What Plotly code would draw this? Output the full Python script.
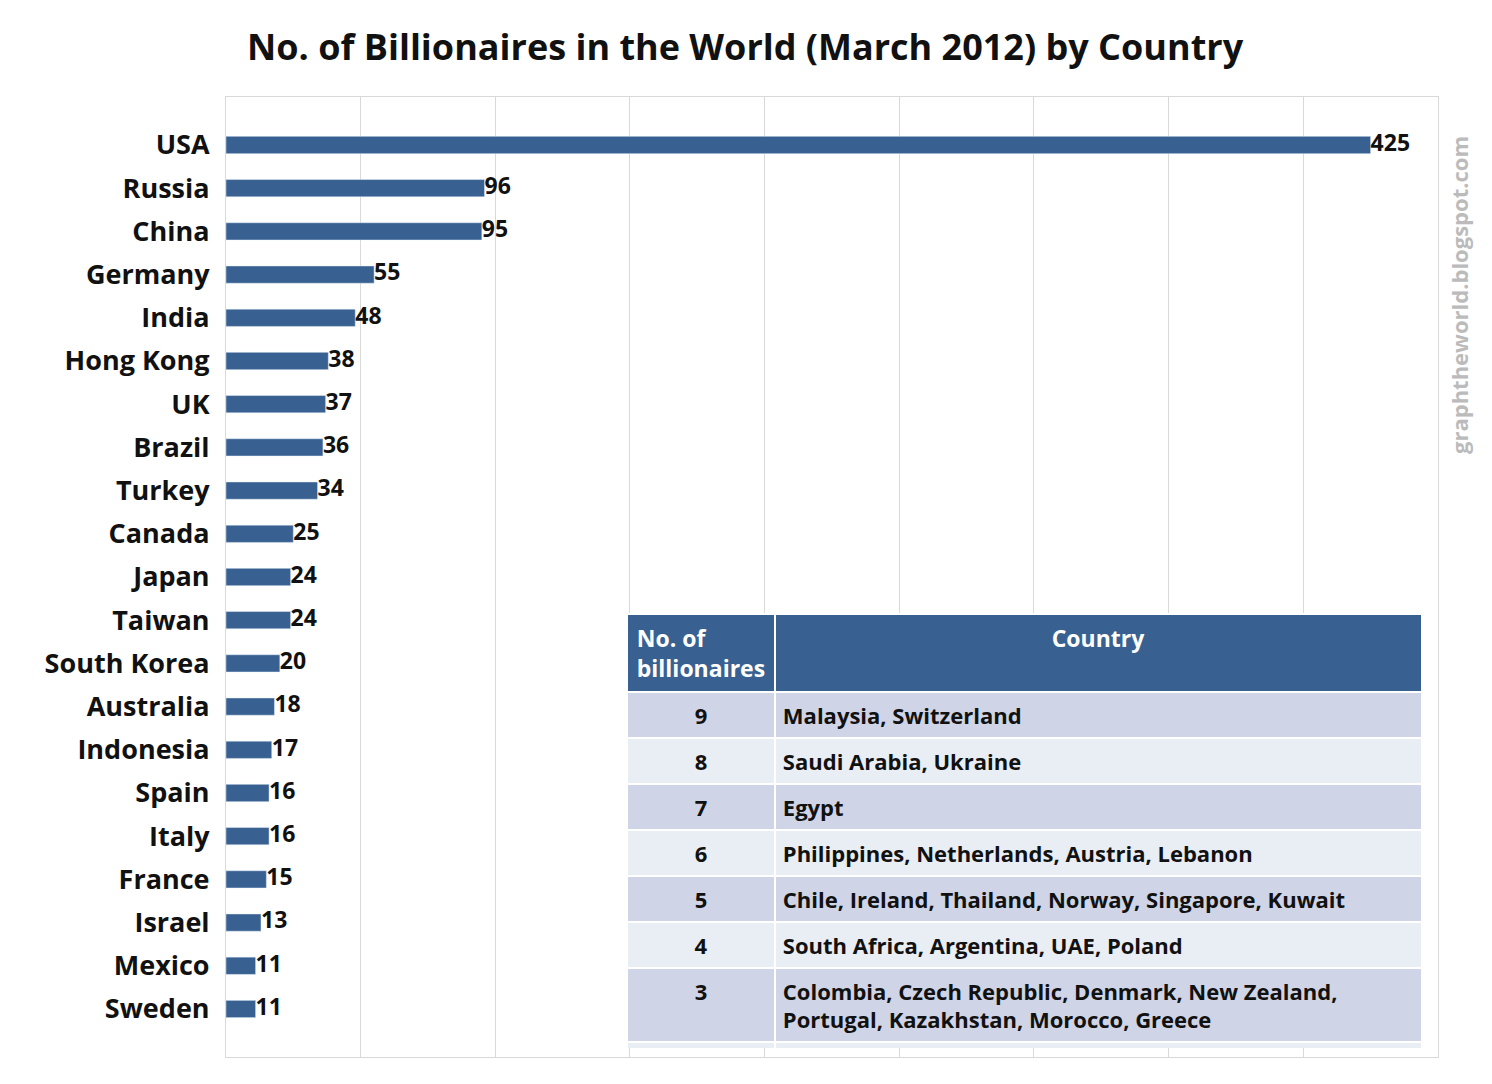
import plotly.graph_objects as go

countries = ["USA","Russia","China","Germany","India","Hong Kong","UK","Brazil","Turkey","Canada",
             "Japan","Taiwan","South Korea","Australia","Indonesia","Spain","Italy","France","Israel","Mexico","Sweden"]
values = [425,96,95,55,48,38,37,36,34,25,24,24,20,18,17,16,16,15,13,11,11]

tbl_counts = ["9","8","7","6","5","4","3","2","1"]
tbl_countries = ["Malaysia, Switzerland","Saudi Arabia, Ukraine","Egypt",
                 "Philippines, Netherlands, Austria, Lebanon",
                 "Chile, Ireland, Thailand, Norway, Singapore, Kuwait",
                 "South Africa, Argentina, UAE, Poland",
                 "Colombia, Czech Republic, Denmark, New Zealand,<br>Portugal, Kazakhstan, Morocco, Greece",
                 "Cyprus, Nigeria, Venezuela, Belgium, Monaco, Peru",
                 "Georgia, Finland, St. Kitts and Nevis, Romania, Belize"]

FONT = "Open Sans"
blue = "#386192"
fig = go.Figure()
fig.add_trace(go.Bar(x=values, y=countries, orientation="h", marker_color=blue, width=0.4,
                     hoverinfo="skip"))
fig.add_trace(go.Scatter(x=values, y=countries, mode="text",
                         text=[f"<b>{v}</b>" for v in values], textposition="middle right",
                         textfont=dict(size=23, color="#111", family=FONT), cliponaxis=False))
row_colors = ["#CFD5E6" if i % 2 == 0 else "#E9EDF4" for i in range(len(tbl_counts))]
fig.add_trace(go.Table(
    domain=dict(x=[0.4149, 0.9484], y=[0.0406, 0.441]),
    columnwidth=[148, 648],
    header=dict(values=["<b>No. of<br>billionaires</b>", "<b>Country</b>"],
                fill_color=blue, line_color="white", line_width=2,
                font=dict(color="white", size=23, family=FONT), align="center", height=68),
    cells=dict(values=[[f"<b>{c}</b>" for c in tbl_counts], [f"<b>{c}</b>" for c in tbl_countries]],
               fill_color=[row_colors, row_colors],
               line_color="white", line_width=2, height=36.5,
               font=dict(color="#111", size=22, family=FONT), align=["center", "left"])))
fig.update_layout(
    width=1492, height=1084, margin=dict(l=0, r=0, t=0, b=0),
    paper_bgcolor="white", plot_bgcolor="white", showlegend=False,
    title=dict(text="<b>No. of Billionaires in the World (March 2012) by Country</b>",
               x=0.494, xanchor="center", y=0.964, yanchor="middle",
               font=dict(size=36, color="#111", family=FONT)),
    xaxis=dict(domain=[0.1461, 0.9584], range=[0, 450], dtick=50, showticklabels=False,
               showgrid=True, gridcolor="#D9D9D9", zeroline=False,
               showline=True, linecolor="#D9D9D9", mirror=True),
    yaxis=dict(domain=[0.0323, 0.9179], autorange="reversed", showgrid=False,
               tickfont=dict(size=27, color="#111", family=FONT), ticks="",
               ticklabelstandoff=10, showline=True, linecolor="#D9D9D9", mirror=True,
               tickprefix="<b>", ticksuffix="</b>"),
    annotations=[dict(text="<b>graphtheworld.blogspot.com</b>", x=0.973, y=0.735, xref="paper",
                      yref="paper", textangle=-90, showarrow=False, xanchor="center", yanchor="middle",
                      font=dict(size=22, color="#BBBBBB", family=FONT))])
fig.write_html("out.html")
